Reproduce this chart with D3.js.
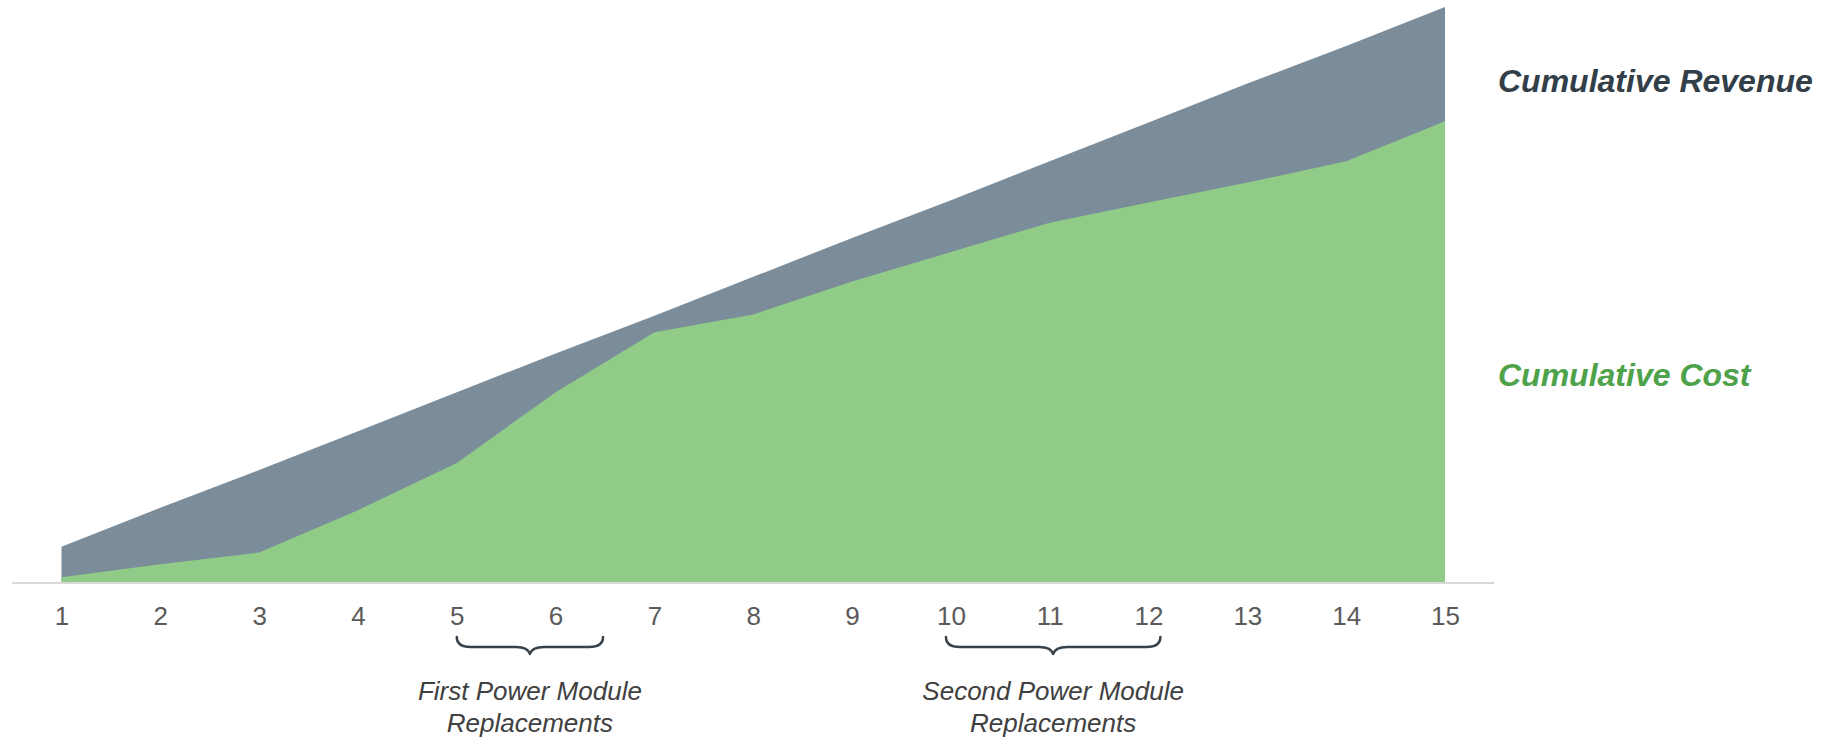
<!DOCTYPE html>
<html>
<head>
<meta charset="utf-8">
<script src="https://cdn.jsdelivr.net/npm/d3@7"></script>
<style>
  html, body { margin: 0; padding: 0; background: #ffffff; }
  svg { display: block; }
</style>
</head>
<body>
<svg id="chart" width="1842" height="739"></svg>
<script>
// Project years along the x axis
const years = [1, 2, 3, 4, 5, 6, 7, 8, 9, 10, 11, 12, 13, 14, 15];
// Cumulative revenue (relative units)
const cumulativeRevenue = [30, 63, 95, 128, 161, 194, 226, 259, 292, 324, 357, 390, 423, 455, 488];
// Cumulative cost (relative units)
const cumulativeCost = [4, 15, 25, 61, 101, 161, 212, 227, 255, 280, 305, 322, 339, 357, 391];
// Series labels
const seriesLabels = ["Cumulative Revenue", "Cumulative Cost"];
// Replacement periods, in years, with their captions
const replacementFrom = [5, 9.95];
const replacementTo = [6.48, 12.12];
const replacementCaptions = [
  ["First Power Module", "Replacements"],
  ["Second Power Module", "Replacements"]
];

const svg = d3.select("#chart");
const baseY = 582;

const x = d3.scaleLinear().domain([1, 15]).range([61.5, 1445]);
const y = d3.scaleLinear().domain([0, 488]).range([baseY, 7]);

const rows = years.map((yr, i) => ({ yr, rev: cumulativeRevenue[i], cost: cumulativeCost[i] }));

const revenueArea = d3.area()
  .x(d => x(d.yr))
  .y0(y(0))
  .y1(d => y(d.rev));
const costArea = d3.area()
  .x(d => x(d.yr))
  .y0(y(0))
  .y1(d => y(d.cost));

svg.append("path")
  .datum(rows)
  .attr("d", revenueArea)
  .attr("fill", "#7b8d9b");

svg.append("path")
  .datum(rows)
  .attr("d", costArea)
  .attr("fill", "#90cb87");

// Baseline rule
svg.append("line")
  .attr("x1", 12).attr("x2", 1494)
  .attr("y1", baseY + 1).attr("y2", baseY + 1)
  .attr("stroke", "#d9d9d9")
  .attr("stroke-width", 2);

// Year labels via a bottom axis with hidden lines
const axis = d3.axisBottom(x)
  .tickValues(years)
  .tickFormat(d3.format("d"))
  .tickSize(0)
  .tickPadding(0);

const axisG = svg.append("g")
  .attr("transform", `translate(0,${baseY})`)
  .call(axis);
axisG.select(".domain").remove();
axisG.selectAll("text")
  .attr("y", 0)
  .attr("dy", 0)
  .attr("transform", "translate(0,43)")
  .attr("font-family", "'Liberation Sans', Arial, sans-serif")
  .attr("font-size", 26)
  .attr("fill", "#5a5a5a");

// Series labels on the right
svg.append("text")
  .attr("x", 1498).attr("y", 92)
  .attr("font-family", "'Liberation Sans', Arial, sans-serif")
  .attr("font-size", 32)
  .attr("font-weight", "bold")
  .attr("font-style", "italic")
  .attr("fill", "#323e48")
  .text(seriesLabels[0]);

svg.append("text")
  .attr("x", 1498).attr("y", 386)
  .attr("font-family", "'Liberation Sans', Arial, sans-serif")
  .attr("font-size", 32)
  .attr("font-weight", "bold")
  .attr("font-style", "italic")
  .attr("fill", "#4ea24a")
  .text(seriesLabels[1]);

// Curly braces marking replacement periods
function bracePath(x0, x1, top) {
  const mid = (x0 + x1) / 2;
  const dip = top + 10;
  const tip = top + 17;
  return `M${x0},${top} Q${x0},${dip} ${x0 + 14},${dip} ` +
         `L${mid - 14},${dip} Q${mid - 2},${dip} ${mid},${tip} ` +
         `Q${mid + 2},${dip} ${mid + 14},${dip} ` +
         `L${x1 - 14},${dip} Q${x1},${dip} ${x1},${top}`;
}

replacementFrom.forEach((from, i) => {
  const x0 = x(from), x1 = x(replacementTo[i]);
  svg.append("path")
    .attr("d", bracePath(x0, x1, 637))
    .attr("fill", "none")
    .attr("stroke", "#37424c")
    .attr("stroke-width", 2.5)
    .attr("stroke-linecap", "round")
    .attr("stroke-linejoin", "round");

  const cap = svg.append("text")
    .attr("text-anchor", "middle")
    .attr("font-family", "'Liberation Sans', Arial, sans-serif")
    .attr("font-size", 26)
    .attr("font-style", "italic")
    .attr("fill", "#404040");
  replacementCaptions[i].forEach((line, j) => {
    cap.append("tspan")
      .attr("x", (x0 + x1) / 2)
      .attr("y", 700 + j * 32)
      .text(line);
  });
});
</script>
</body>
</html>
